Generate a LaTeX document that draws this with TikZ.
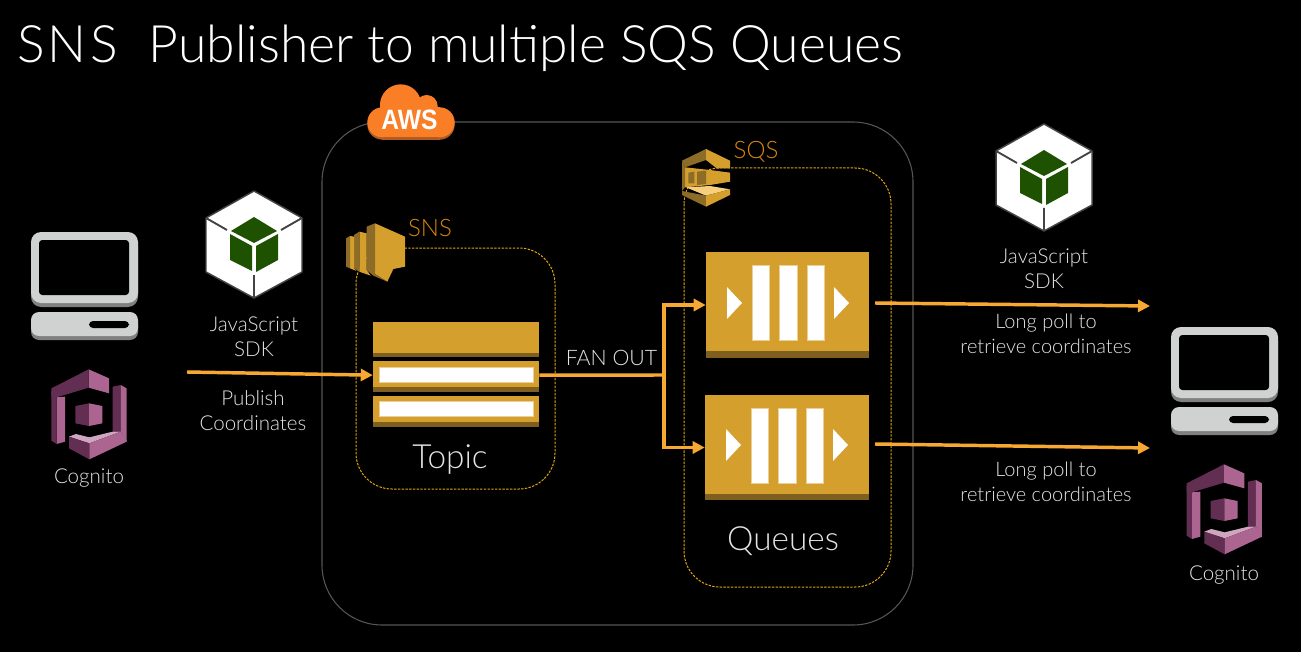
\documentclass[tikz,border=0pt]{standalone}
\usepackage{fontspec}
\setmainfont{Lato Light}
\newfontfamily\awsfont{Liberation Sans}[Scale=1]
\usetikzlibrary{arrows.meta}
\definecolor{gold}{HTML}{D59F2E}
\definecolor{golddk}{HTML}{7E5F20}
\definecolor{goldmd}{HTML}{8C6C26}
\definecolor{goldlt}{HTML}{F6CF7E}
\definecolor{arrowc}{HTML}{F6A832}
\definecolor{dashc}{HTML}{E0A412}
\definecolor{orangelbl}{HTML}{D9860F}
\definecolor{awsor}{HTML}{F97E25}
\definecolor{awsdk}{HTML}{B25A22}
\definecolor{cogl}{HTML}{AB6590}
\definecolor{cogd}{HTML}{622E52}
\definecolor{cogp}{HTML}{CFA6C0}
\definecolor{pcl}{HTML}{D0D2D1}
\definecolor{pcd}{HTML}{808080}
\definecolor{sdkg}{HTML}{1F5200}
\definecolor{sdke}{HTML}{444444}
\definecolor{framec}{HTML}{565656}
\definecolor{lbl}{HTML}{E4E4E4}
\tikzset{
  lab/.style={text=lbl,inner sep=0,align=center,font=\fontsize{15.4pt}{18.75pt}\selectfont},
  poll/.style={text=lbl,inner sep=0,align=center,font=\fontsize{15pt}{18.75pt}\selectfont},
  big/.style={text=lbl,inner sep=0,anchor=base,font=\fontsize{25pt}{30pt}\selectfont},
  glab/.style={text=orangelbl,inner sep=0,anchor=base,font=\fontsize{18pt}{20pt}\selectfont},
  flow/.style={draw=arrowc,line width=2.6pt,-{Triangle[length=9pt,width=9pt]}},
  flowplain/.style={draw=arrowc,line width=2.6pt},
  group/.style={draw=dashc,line width=.75pt,dash pattern=on 1.8pt off 1pt},
  gbar/.style={fill=gold,inner sep=0,draw=none},
  wbar/.style={fill=white,draw=gold!50!white,line width=.5pt},
  computer/.pic={
    \fill[pcd,rounded corners=7.5pt] (31,236) rectangle (138,307);
    \fill[pcl,rounded corners=7.5pt] (31,232) rectangle (138,303);
    \fill[black,rounded corners=2.5pt] (39,240) rectangle (129,295);
    \fill[pcd,rounded corners=6pt] (31,316) rectangle (138,340);
    \fill[pcl,rounded corners=6pt] (31,312) rectangle (138,336);
    \fill[black,rounded corners=3pt] (89,321) rectangle (129,328);
  },
  cognito/.pic={
    \begin{scope}[x=.25pt,y=-.25pt,yshift=-150pt]
    \fill[cogl] (266,508)--(327,535)--(327,580)--(266,563)--cycle;
    \fill[cogd] (266,508)--(154,565)--(154,590)--(170,592)--(266,563)--cycle;
    \fill[cogl] (170,592)--(195,590)--(195,725)--(170,732)--cycle;
    \fill[cogd] (154,572)--(170,592)--(170,732)--(154,722)--cycle;
    \fill[cogd] (338,560)--(362,555)--(362,695)--(338,695)--cycle;
    \fill[cogl] (362,555)--(380,565)--(380,725)--(362,695)--cycle;
    \fill[cogp] (207,710)--(228,702)--(268,712)--(338,695)--(362,695)--(268,730)--cycle;
    \fill[cogd] (207,710)--(268,730)--(268,778)--(207,745)--cycle;
    \fill[cogl] (268,730)--(362,695)--(380,722)--(380,725)--(268,778)--cycle;
    \fill[cogd] (226,618)--(267,610)--(267,678)--(226,670)--cycle;
    \fill[cogl] (267,610)--(307,618)--(307,670)--(267,678)--cycle;
    \end{scope}
  },
  sdk/.pic={
    \filldraw[fill=white,draw=sdke,line width=1.1pt,line join=round]
      (254,191)--(302,218)--(302,272)--(254,298)--(206,272)--(206,218)--cycle;
    \draw[sdke,line width=1.4pt] (302,218)--(281,230) (206,218)--(227,230) (254,298)--(254,275);
    \fill[sdkg] (254,217)--(277,231)--(254,243)--(231,231)--cycle;
    \fill[sdkg] (278,234)--(278,260)--(256,272)--(256,246)--cycle;
    \fill[sdkg] (230,234)--(230,260)--(252,271)--(252,246)--cycle;
  },
}
\begin{document}
\begin{tikzpicture}[x=.75pt,y=-.75pt]
\useasboundingbox (0,0) rectangle (1301,652);
\fill[black] (0,0) rectangle (1301,652);

\node[inner sep=0,anchor=base west,text=white,font=\fontsize{38.7pt}{44pt}\selectfont] (title) at (17,63) {{\addfontfeature{LetterSpace=6}SNS}\hspace{23.5pt}Publisher to multiple SQS Queues};

% containers
\draw[draw=framec,line width=.8pt,rounded corners=45pt] (322,122) rectangle (913,625);
\draw[group,rounded corners=27pt] (356,248) rectangle (555,489);
\draw[group,rounded corners=27pt] (684,168) rectangle (891,587);

% AWS cloud
\begin{scope}[shift={(330,70)},x=.25pt,y=-.25pt]
\foreach \c/\d in {awsdk/7,awsor/0}{
 \fill[\c] (212,105+\d) circle[radius=62];
 \fill[\c] (290,108+\d) circle[radius=33];
 \fill[\c] (157,157+\d) circle[radius=45];
 \fill[\c] (329,157+\d) circle[radius=45];
 \fill[\c] (157,112+\d) rectangle (329,202+\d);
}
\end{scope}
\node[inner sep=0,text=white,anchor=base,xscale=.88,font=\awsfont\bfseries\fontsize{21pt}{22pt}\selectfont] (awslabel) at (409.5,130) {AWS};

% SNS icon
\begin{scope}[shift={(330,70)},x=.25pt,y=-.25pt]
\fill[gold] (135,460)--(225,500)--(225,590)--(190,597)--(172,635)--(135,612)--cycle;
\fill[goldmd] (110,470)--(135,460)--(135,612)--(172,635)--(130,617)--(110,600)--cycle;
\fill[gold] (88,485)--(110,490)--(110,600)--(122,617)--(88,605)--cycle;
\fill[goldmd] (72,495)--(88,485)--(88,605)--(72,595)--cycle;
\fill[gold] (60,498)--(72,500)--(72,595)--(80,603)--(60,595)--cycle;
\fill[goldmd] (48,505)--(60,498)--(60,595)--(48,590)--cycle;
\end{scope}
\node[glab] (snslabel) at (430,236) {SNS};

% SQS icon
\begin{scope}[shift={(660,130)},x=.25pt,y=-.25pt]
\fill[goldmd] (66,92)--(138,57)--(138,90)--(75,112)--cycle;
\fill[gold] (138,57)--(210,92)--(210,115)--(170,115)--(138,90)--cycle;
\fill[gold] (75,112)--(150,120)--(210,128)--(210,155)--(150,165)--(75,172)--cycle;
\fill[goldmd] (66,92)--(75,112)--(75,172)--(66,183)--cycle;
\fill[goldmd] (85,128)--(103,125)--(103,160)--(85,160)--cycle;
\fill[goldmd] (111,125)--(138,122)--(138,162)--(111,165)--cycle;
\fill[goldlt] (78,172)--(150,168)--(210,178)--(138,197)--cycle;
\fill[goldmd] (66,183)--(138,197)--(138,230)--(66,195)--cycle;
\fill[gold] (138,197)--(210,178)--(210,195)--(138,230)--cycle;
\end{scope}
\node[glab] (sqslabel) at (756,159) {SQS};

% Topic bars
\fill[gold] (373,322) rectangle (539,353);
\fill[golddk] (373,353) rectangle (539,357);
\node[gbar,minimum width=124.5pt,minimum height=23.25pt] (topicbar) at (456,376.5) {};
\fill[golddk] (373,387) rectangle (539,392);
\draw[wbar] (379,367) rectangle (533,382);
\fill[gold] (373,396) rectangle (539,422);
\fill[golddk] (373,422) rectangle (539,427);
\draw[wbar] (379,401) rectangle (533,416);
\node[big] (topiclabel) at (450,468) {Topic};

% Queues
\node[gbar,minimum width=122.25pt,minimum height=79.5pt] (queueA) at (787.5,305) {};
\fill[golddk] (706,351) rectangle (869,358);
\foreach \a/\b in {752/769,779/797,807/824}{\draw[wbar] (\a,265) rectangle (\b,340);}
\fill[white] (727,287)--(742,303)--(727,319)--cycle (834,287)--(849,303)--(834,319)--cycle;

\node[gbar,minimum width=123pt,minimum height=78.75pt] (queueB) at (787,447.5) {};
\fill[golddk] (705,494) rectangle (869,500);
\foreach \a/\b in {751/768,778/796,806/823}{\draw[wbar] (\a,408) rectangle (\b,483);}
\fill[white] (726,429)--(741,445)--(726,461)--cycle (833,429)--(848,445)--(833,461)--cycle;
\node[big] (queueslabel) at (783,550) {Queues};

% clients
\pic (pcleft) at (0,0) {computer};
\pic (pcright) at (1140,95) {computer};
\pic (cogleft) at (0,0) {cognito};
\pic (cogright) at (1135.3,95) {cognito};
\pic (sdkleft) at (0,0) {sdk};
\pic (sdkright) at (790,-67) {sdk};

% labels
\node[lab] (cogleftlabel) at (89,478) {Cognito};
\node[lab] (cogrightlabel) at (1224,575) {Cognito};
\node[lab] (jsleft) at (254,337) {JavaScript\\SDK};
\node[lab] (jsright) at (1044,269) {JavaScript\\SDK};
\node[lab] (publish) at (253,411) {Publish\\Coordinates};
\node[poll] (pollA) at (1046,334) {Long poll to\\retrieve coordinates};
\node[poll] (pollB) at (1046,482) {Long poll to\\retrieve coordinates};
\node[lab,font=\fontsize{16pt}{18pt}\selectfont] (fanout) at (611.5,358) {FAN OUT};

% connectors
\coordinate (pubstart) at (187,372);
\coordinate (fan) at (664,375);
\coordinate (outAstart) at (875,303);
\coordinate (outAend) at (1150,306);
\coordinate (outBstart) at (875,444);
\coordinate (outBend) at (1150,448);
\draw[flow] (pubstart) -- ([yshift=1pt]topicbar.west);
\draw[flowplain] ([yshift=1pt]topicbar.east) -- (fan);
\draw[flow] (fan) |- (queueA.west);
\draw[flow] (fan) |- (queueB.west);
\draw[flow] (outAstart) -- (outAend);
\draw[flow] (outBstart) -- (outBend);
\end{tikzpicture}
\end{document}
